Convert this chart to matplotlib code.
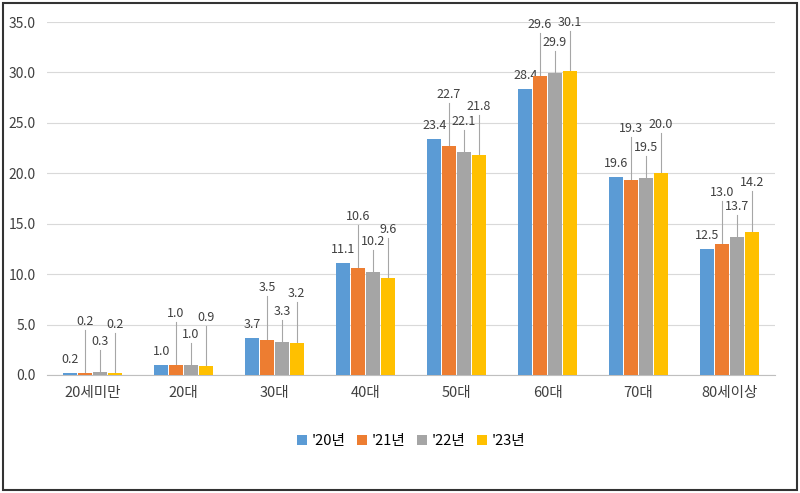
import matplotlib
matplotlib.use("Agg")
import matplotlib.pyplot as plt
import numpy as np
from matplotlib.patches import Rectangle

plt.rcParams['font.family'] = ['Noto Sans CJK JP', 'Noto Sans CJK KR', 'DejaVu Sans']

categories = ['20세미만', '20대', '30대', '40대', '50대', '60대', '70대', '80세이상']
series = ["'20년", "'21년", "'22년", "'23년"]
v20 = [0.2, 1.0, 3.7, 11.1, 23.4, 28.4, 19.6, 12.5]
v21 = [0.2, 1.0, 3.5, 10.6, 22.7, 29.6, 19.3, 13.0]
v22 = [0.3, 1.0, 3.3, 10.2, 22.1, 29.9, 19.5, 13.7]
v23 = [0.2, 0.9, 3.2, 9.6, 21.8, 30.1, 20.0, 14.2]
values = [v20, v21, v22, v23]
colors = ['#5B9BD5', '#ED7D31', '#A5A5A5', '#FFC000']

fig = plt.figure(figsize=(8, 4.93), dpi=100)
fig.patches.append(Rectangle((0.004, 0.006), 0.992, 0.988, transform=fig.transFigure,
                             fill=False, edgecolor='#333333', linewidth=1.5))
ax = fig.add_axes([47/800, 1-375/493, 728/800, 353/493])
x = np.arange(len(categories))
w = 0.155
offs = [0.5, 4.3, 2.2, 4.0]
for i, (vals, c) in enumerate(zip(values, colors)):
    xs = x + (i - 1.5) * w * 1.05
    ax.bar(xs, vals, w, color=c, label=series[i], zorder=3)
    for xx, v in zip(xs, vals):
        ty = v + offs[i]
        if offs[i] > 1:
            ax.plot([xx, xx], [v, ty], color='#A6A6A6', lw=0.8, zorder=2)
        ax.text(xx, ty + 0.2, f'{v:.1f}', ha='center', va='bottom', fontsize=9, color='#404040')

ax.set_xlim(-0.5, len(categories) - 0.5)
ax.set_ylim(0, 35)
ax.set_yticks(np.arange(0, 35.1, 5))
ax.set_yticklabels([f'{t:.1f}' for t in np.arange(0, 35.1, 5)], fontsize=10, color='#404040')
ax.set_xticks(x)
ax.set_xticklabels(categories, fontsize=10.5, color='#404040')
ax.grid(axis='y', color='#D9D9D9', lw=0.8, zorder=0)
for s in ['top', 'right', 'left']:
    ax.spines[s].set_visible(False)
ax.spines['bottom'].set_color('#BFBFBF')
ax.tick_params(length=0, pad=8)
ax.legend(loc='upper center', bbox_to_anchor=(0.5, -0.13), ncol=4, frameon=False,
          fontsize=10.5, handlelength=0.7, handleheight=0.7, columnspacing=0.8, handletextpad=0.3)
fig.savefig('out.png', dpi=100)
